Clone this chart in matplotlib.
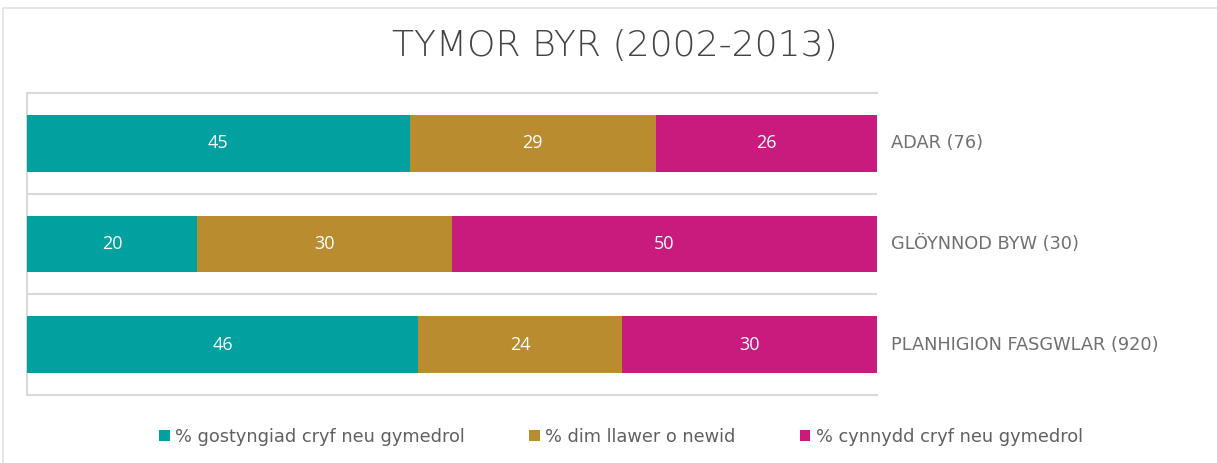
import matplotlib
matplotlib.use("Agg")
import matplotlib.pyplot as plt
from matplotlib.patches import Rectangle

plt.rcParams.update({"font.family": ["DejaVu Sans"]})

# data
categories = ["ADAR (76)", "GLÖYNNOD BYW (30)", "PLANHIGION FASGWLAR (920)"]
decrease = [45, 20, 46]
no_change = [29, 30, 24]
increase = [26, 50, 30]
series_names = ["% gostyngiad cryf neu gymedrol", "% dim llawer o newid",
                "% cynnydd cryf neu gymedrol"]

TEAL, GOLD, MAGENTA = "#02A09E", "#B98C30", "#C91A7D"
GRID = "#d9d9d9"

fig = plt.figure(figsize=(12.17, 4.63), dpi=100)
# outer card border
fig.patches.append(Rectangle((3 / 1217, -0.1), 1.2, 1 - 8 / 463 + 0.1,
                             transform=fig.transFigure, fill=False,
                             edgecolor="#e3e3e3", lw=1.2))

ax = fig.add_axes([27 / 1217, 1 - 395 / 463, 850 / 1217, 302 / 463])
y = range(len(categories))
left = [0] * len(categories)
for vals, col, name in zip([decrease, no_change, increase],
                           [TEAL, GOLD, MAGENTA], series_names):
    bars = ax.barh(y, vals, left=left, height=0.565, color=col, label=name, zorder=3)
    for b, v in zip(bars, vals):
        ax.text(b.get_x() + b.get_width() / 2, b.get_y() + b.get_height() / 2, str(v),
                ha="center", va="center", color="white", fontsize=13,
                family="Open Sans", zorder=4)
    left = [l + v for l, v in zip(left, vals)]

ax.set_xlim(0, 100)
ax.set_ylim(2.5, -0.5)
for yy in [0.5, 1.5]:
    ax.axhline(yy, color=GRID, lw=1.5, zorder=1)
ax.set_xticks([])
ax.set_yticks([])
for s in ["left", "top", "bottom"]:
    ax.spines[s].set_color(GRID)
    ax.spines[s].set_linewidth(1.5)
ax.spines["right"].set_visible(False)

for yi, c in zip(y, categories):
    ax.text(101.7, yi, c, ha="left", va="center", fontsize=12.8, color="#707070",
            clip_on=False)

fig.text(615 / 1217, 1 - 46 / 463, "TYMOR BYR (2002-2013)", ha="center", va="center",
         fontsize=26, color="#444444", fontweight="light")

fig.legend(loc="center", bbox_to_anchor=(621 / 1217, 1 - 437 / 463), ncol=3,
           frameon=False, fontsize=12.8, handlelength=0.6, handleheight=0.6,
           handletextpad=0.3, columnspacing=3.6, labelcolor="#606060")

plt.savefig("out.png", facecolor="white")
